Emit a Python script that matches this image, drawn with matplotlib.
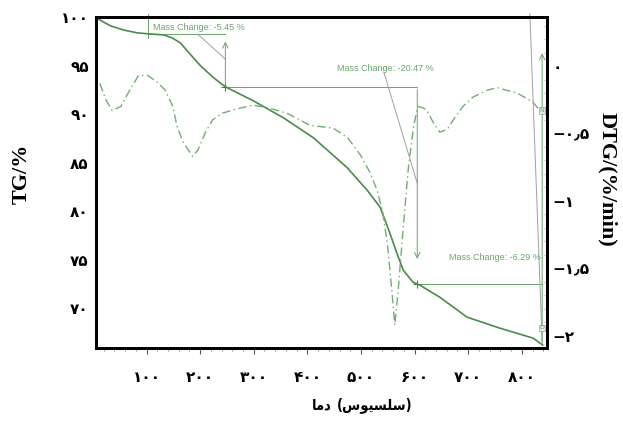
import numpy as np
import matplotlib
matplotlib.use("Agg")
import matplotlib.pyplot as plt

# TG curve (temperature, mass %)
temp_tg = [6, 33, 57, 83, 107, 132, 148, 163, 176, 201, 225, 247, 299, 355, 411, 474,
           512, 536, 554, 567, 579, 597, 610, 647, 698, 759, 821, 839]
tg = [99.95, 99.13, 98.71, 98.41, 98.30, 98.20, 97.89, 97.38, 96.55, 95.0, 93.78,
      92.85, 91.41, 89.66, 87.60, 84.52, 82.15, 80.40, 77.73, 75.67, 73.92, 72.69,
      72.38, 71.14, 69.08, 67.95, 66.92, 66.20]

# DTG curve (temperature, %/min)
temp_dtg = [13, 24, 36, 52, 67, 85, 102, 120, 135, 149, 157, 169, 186, 196, 210, 223,
            241, 266, 298, 327, 362, 405, 448, 475, 499, 517, 530, 540, 549, 558,
            563, 569, 579, 588, 598, 606, 616, 623, 635, 647, 661, 672, 690, 709,
            735, 754, 772, 791, 809, 821, 834]
dtg = [-0.13, -0.25, -0.33, -0.30, -0.19, -0.07, -0.07, -0.12, -0.18, -0.30, -0.45,
       -0.57, -0.67, -0.62, -0.49, -0.40, -0.35, -0.32, -0.29, -0.31, -0.35, -0.44,
       -0.46, -0.53, -0.66, -0.79, -0.92, -1.07, -1.31, -1.68, -1.92, -1.68, -1.19,
       -0.77, -0.45, -0.30, -0.31, -0.33, -0.42, -0.49, -0.47, -0.40, -0.30, -0.23,
       -0.18, -0.16, -0.18, -0.20, -0.24, -0.27, -0.33]

x_ticks = [100, 200, 300, 400, 500, 600, 700, 800]
tg_ticks = [70, 75, 80, 85, 90, 95, 100]
dtg_ticks = [0, -0.5, -1, -1.5, -2]

# mass change steps (temperatures of the markers) and their labels
steps = [103, 247, 605, 838]
mass_changes = ["-5.45", "-20.47", "-6.29"]

fa_digits = str.maketrans("0123456789.-", "۰۱۲۳۴۵۶۷۸۹٫−")
def fa_num(v):
    return ("%g" % v).translate(fa_digits)

# "دما (سلسیوس)" written in shaped presentation forms, visual order
xlabel_word = "\uFE8E\uFEE3\uFEA9"
xlabel_unit = "(\uFEB1\uFEEE\uFEF4\uFEB4\uFEE0\uFEB3)"

tg_col = "#4b8b4b"
dtg_col = "#72ad72"
ann_col = "#6aa56a"
lead_col = "#a0a0a0"

fig = plt.figure(figsize=(6.23, 4.23), dpi=100)
ax = fig.add_axes([0.1535, 0.1773, 0.7245, 0.7825])
ax2 = ax.twinx()

ax.plot(temp_tg, tg, color=tg_col, lw=1.2, zorder=3)
ax2.plot(temp_dtg, dtg, color=dtg_col, lw=1.0, linestyle=(0, (6, 2.5, 1, 2.5)))

ax.set_xlim(5, 847)
ax.set_ylim(65.9, 100.05)
ax2.set_ylim(-2.089, 0.363)

ax.set_xticks(x_ticks)
ax.set_xticks(np.arange(20, 847, 20), minor=True)
ax.set_xticklabels([fa_num(v) for v in x_ticks], fontsize=11, fontweight="bold")
ax.set_yticks(tg_ticks)
ax.set_yticklabels([fa_num(v) for v in tg_ticks], fontsize=11, fontweight="bold")
ax.tick_params(axis="y", length=0, pad=5)
ax.tick_params(axis="x", which="major", length=4, width=0.8, pad=12, color="#555555")
ax.tick_params(axis="x", which="minor", length=2, width=0.6, color="#777777")

ax2.set_yticks(dtg_ticks)
ax2.set_yticklabels([fa_num(v) for v in dtg_ticks], fontsize=11, fontweight="bold")
ax2.set_yticks(np.arange(-2.0, 0.36, 0.1), minor=True)
ax2.tick_params(axis="y", which="major", length=0, pad=4)
ax2.tick_params(axis="y", which="minor", direction="in", length=2, width=0.5,
                color="#999999")

for a in (ax, ax2):
    for s in a.spines.values():
        s.set_linewidth(2)
        s.set_color("black")

fig.text(0.035, 0.59, "TG/%", rotation=90, ha="center", va="center",
         family="Liberation Serif", fontweight="bold", fontsize=16)
fig.text(0.975, 0.575, "DTG/(%/min)", rotation=-90, ha="center", va="center",
         family="Liberation Serif", fontweight="bold", fontsize=16)
lab = dict(va="center", family="DejaVu Sans", fontweight="bold",
           fontstretch="condensed", fontsize=10.5)
fig.text(0.532, 0.043, xlabel_word, ha="right", **lab)
fig.text(0.541, 0.043, xlabel_unit, ha="left", **lab)

# mass change annotations
lv = np.interp(steps, temp_tg, tg)
tfont = dict(fontsize=6.5, color=ann_col,
             family=["Liberation Sans Narrow", "Liberation Sans"])

# step 1
ax.plot([steps[0], steps[0]], [100.4, 97.9], color=ann_col, lw=0.7, clip_on=False)
ax.plot([steps[0], steps[1]], [98.3, 98.3], color=ann_col, lw=0.7)
ax.text(steps[0] + 9, 99.0, "Mass Change: %s %%" % mass_changes[0], va="center", **tfont)
ax.plot([195, steps[1]], [98.3, 95.7], color=lead_col, lw=0.7)
ax.annotate("", xy=(steps[1], 97.8), xytext=(steps[1], lv[1]),
            arrowprops=dict(arrowstyle="->", color=ann_col, lw=0.7))
ax.plot([steps[1], steps[2]], [lv[1], lv[1]], color=ann_col, lw=0.7)

# step 2
ax.text(545, 94.7, "Mass Change: %s %%" % mass_changes[1], ha="center", va="center", **tfont)
ax.plot([543, steps[2]], [94.3, 82.9], color=lead_col, lw=0.7)
ax.annotate("", xy=(steps[2], 74.8), xytext=(steps[2], lv[1]),
            arrowprops=dict(arrowstyle="->", color=ann_col, lw=0.7))
ax.plot([steps[2], steps[3]], [lv[2], lv[2]], color=ann_col, lw=0.7)

# step 3
ax.text(steps[3] - 3, 75.2, "Mass Change: %s %%" % mass_changes[2], ha="right", va="center", **tfont)
ax.annotate("", xy=(steps[3], 96.6), xytext=(steps[3], lv[3]),
            arrowprops=dict(arrowstyle="->", color=ann_col, lw=0.7))
ax.plot([steps[3] - 23, steps[3]], [100.4, 66.4], color=lead_col, lw=0.7, clip_on=False)
ax.text(steps[3], 90.4, "N", fontsize=4.5, color=ann_col, ha="center", va="center",
        bbox=dict(boxstyle="square,pad=0.1", fc="#dfeedf", ec=ann_col, lw=0.4))
ax.text(steps[3] - 1, 68.0, "D", fontsize=4.5, color=ann_col, ha="center", va="center",
        bbox=dict(boxstyle="square,pad=0.1", fc="#dfeedf", ec=ann_col, lw=0.4))

ax.plot(steps[1:3], lv[1:3], "+", color="#557755", ms=6, mew=0.8)

plt.savefig("out.png", dpi=100)
